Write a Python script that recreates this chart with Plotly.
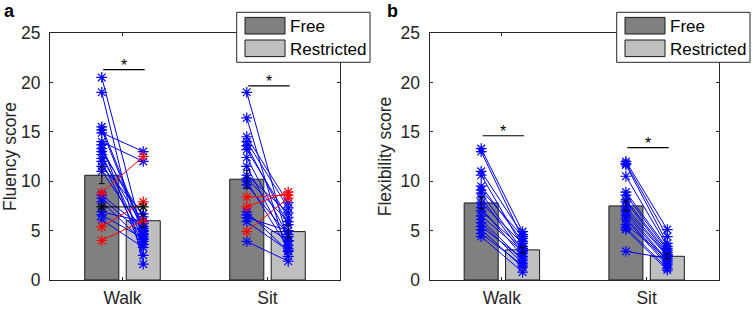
import plotly.graph_objects as go

# ---------------- data ----------------
conditions = ["Walk", "Sit"]
cond_pos = [1, 2]

# panel a: fluency
flu_free_mean = [10.6, 10.2]
flu_restr_mean = [6.0, 4.9]
flu_free_err = [0.85, 0.9]
flu_restr_err = [0.65, 0.65]

flu_walk_free = [20.5, 19.0, 15.5, 15.2, 14.9, 14.0, 13.7, 13.3, 13.0, 12.7, 12.3, 12.0,
                 11.5, 11.0, 8.6, 8.3, 7.9, 6.9, 6.6, 6.1, 8.85, 5.4, 4.0, 7.4]
flu_walk_restr = [4.4, 1.6, 5.0, 4.7, 13.0, 12.0, 2.5, 5.7, 6.4, 4.1, 5.4, 3.6,
                  6.7, 4.9, 5.2, 4.6, 3.9, 5.9, 4.2, 3.3, 12.5, 7.9, 6.0, 7.4]
flu_sit_free = [19.0, 16.4, 14.5, 14.0, 13.6, 13.2, 12.4, 11.5, 10.6, 10.3, 10.0, 9.6,
                6.9, 6.6, 6.3, 5.9, 3.9, 8.4, 7.4, 4.9]
flu_sit_restr = [3.9, 2.4, 7.8, 7.3, 5.6, 6.3, 4.4, 3.5, 6.8, 5.9, 3.2, 4.6,
                 2.9, 4.0, 5.0, 3.0, 1.9, 8.6, 8.9, 8.3]

# panel b: flexibility
flx_free_mean = [7.8, 7.5]
flx_restr_mean = [3.05, 2.4]
flx_free_err = [0.6, 0.5]
flx_restr_err = [0.3, 0.25]

flx_walk_free = [13.3, 13.0, 11.0, 10.6, 9.5, 9.1, 8.8, 8.3, 7.8, 7.3, 7.0, 6.5,
                 6.1, 5.8, 5.4, 5.1, 4.7, 4.4]
flx_walk_restr = [4.9, 4.2, 4.6, 3.4, 3.9, 4.4, 3.0, 2.7, 3.7, 2.4, 3.2, 2.9,
                  2.0, 1.7, 2.2, 1.3, 1.5, 0.8]
flx_sit_free = [12.0, 11.8, 11.65, 10.5, 8.9, 8.6, 8.1, 7.9, 7.4, 7.1, 6.9, 6.6,
                6.3, 6.1, 5.6, 5.3, 5.1, 2.9]
flx_sit_restr = [5.1, 4.4, 3.7, 3.4, 3.2, 3.0, 2.8, 2.6, 2.5, 2.4, 2.0, 1.9,
                 1.7, 1.5, 2.2, 1.2, 1.0, 2.2]

# significance bar heights
flu_sig = [21.3, 19.65]
flx_sig = [14.6, 13.4]

panel_titles = ["Fluency score", "Flexibility score"]
legend_labels = ["Free", "Restricted"]

# ---------------- style ----------------
W, H = 753, 309
FONT = "Liberation Sans, Arial, sans-serif"
INK = "#262626"
FREE_COL = "#808080"
RESTR_COL = "#bfbfbf"
OFF = 0.143
BW = 0.235


def px(x):
    return x / W


def py(y):
    return 1 - y / H


fig = go.Figure()


def add_panel(n, free_mean, restr_mean, free_err, restr_err, pairs, sig):
    xa = "x" if n == 1 else "x2"
    ya = "y" if n == 1 else "y2"
    xf = [c - OFF for c in cond_pos]
    xr = [c + OFF for c in cond_pos]
    fig.add_trace(go.Bar(x=xf, y=free_mean, width=BW, marker=dict(color=FREE_COL, line=dict(color="#1a1a1a", width=1)),
                         xaxis=xa, yaxis=ya, showlegend=False))
    fig.add_trace(go.Bar(x=xr, y=restr_mean, width=BW, marker=dict(color=RESTR_COL, line=dict(color="#1a1a1a", width=1)),
                         xaxis=xa, yaxis=ya, showlegend=False))
    groups = {"blue": ([], []), "red": ([], []), "black": ([], [])}
    for ci, (fr, rs) in enumerate(pairs):
        for a, b in zip(fr, rs):
            col = "blue" if b < a else ("red" if b > a else "black")
            gx, gy = groups[col]
            gx += [xf[ci], xr[ci], None]
            gy += [a, b, None]
    colmap = {"blue": "#0000ff", "red": "#ff0000", "black": "#000000"}
    for col in ["blue", "red", "black"]:
        gx, gy = groups[col]
        if not gx:
            continue
        c = colmap[col]
        fig.add_trace(go.Scatter(x=gx, y=gy, mode="lines+markers", xaxis=xa, yaxis=ya, showlegend=False,
                                 line=dict(color=c, width=1),
                                 marker=dict(symbol="asterisk-open", size=9, color=c, line=dict(color=c, width=1.2))))
    # error bars on top
    fig.add_trace(go.Scatter(x=xf + xr, y=free_mean + restr_mean, mode="markers", xaxis=xa, yaxis=ya, showlegend=False,
                             marker=dict(size=1, color="rgba(0,0,0,0)"),
                             error_y=dict(type="data", array=free_err + restr_err, color="#000000", thickness=1, width=3)))
    # significance bars
    for ci, s in enumerate(sig):
        fig.add_trace(go.Scatter(x=[xf[ci] + 0.01, xr[ci] + 0.01], y=[s, s], mode="lines", xaxis=xa, yaxis=ya,
                                 showlegend=False, line=dict(color="#000000", width=1.2)))
        fig.add_annotation(x=cond_pos[ci] + 0.01, y=s, xref=xa, yref=ya, text="*", showarrow=False,
                           yanchor="bottom", yshift=-6, font=dict(size=16, color="#000000", family=FONT))


add_panel(1, flu_free_mean, flu_restr_mean, flu_free_err, flu_restr_err,
          [(flu_walk_free, flu_walk_restr), (flu_sit_free, flu_sit_restr)], flu_sig)
add_panel(2, flx_free_mean, flx_restr_mean, flx_free_err, flx_restr_err,
          [(flx_walk_free, flx_walk_restr), (flx_sit_free, flx_sit_restr)], flx_sig)

ax_common = dict(showline=True, linecolor=INK, linewidth=1, mirror="ticks", ticks="inside", ticklen=3,
                 tickcolor=INK, showgrid=False, zeroline=False, automargin=False,
                 tickfont=dict(size=17.5, color=INK, family=FONT))
ydom = [py(280), py(33)]
fig.update_layout(
    template="none",
    width=W, height=H, margin=dict(l=0, r=0, t=0, b=0, pad=0), autosize=False,
    paper_bgcolor="white", plot_bgcolor="white", barmode="overlay", showlegend=False,
    font=dict(family=FONT, color=INK),
    xaxis=dict(domain=[px(50), px(340)], range=[0.5, 2.5], tickvals=cond_pos, ticktext=conditions,
               anchor="y", ticklabelstandoff=2, **ax_common),
    yaxis=dict(domain=ydom, range=[0, 25], tickvals=[0, 5, 10, 15, 20, 25], anchor="x", ticklabelstandoff=5,
               title=dict(text=panel_titles[0], font=dict(size=17.5, color=INK, family=FONT), standoff=4),
               **ax_common),
    xaxis2=dict(domain=[px(429.5), px(719)], range=[0.5, 2.5], tickvals=cond_pos, ticktext=conditions,
                anchor="y2", ticklabelstandoff=2, **ax_common),
    yaxis2=dict(domain=ydom, range=[0, 25], tickvals=[0, 5, 10, 15, 20, 25], anchor="x2", ticklabelstandoff=5,
                title=dict(text=panel_titles[1], font=dict(size=17.5, color=INK, family=FONT), standoff=4),
                **ax_common),
)

# panel letters
for letter, xx in [("a", 9), ("b", 392)]:
    fig.add_annotation(x=px(xx), y=py(11), xref="paper", yref="paper", text="<b>%s</b>" % letter,
                       showarrow=False, xanchor="center", yanchor="middle",
                       font=dict(size=18, color="#000000", family=FONT))

# legends (drawn above axes)
for dx in [0, 380]:
    fig.add_shape(type="rect", xref="paper", yref="paper", x0=px(236.7 + dx), x1=px(370 + dx),
                  y0=py(62.3), y1=py(12.3), fillcolor="white", line=dict(color=INK, width=1), layer="above")
    for i, (lab, col, yc) in enumerate(zip(legend_labels, [FREE_COL, RESTR_COL], [25.7, 48.3])):
        fig.add_shape(type="rect", xref="paper", yref="paper", x0=px(245 + dx), x1=px(285 + dx),
                      y0=py(yc + 8.3), y1=py(yc - 8.3), fillcolor=col, line=dict(color="#1a1a1a", width=1),
                      layer="above")
        fig.add_annotation(x=px(288 + dx), y=py(yc + 0.8), xref="paper", yref="paper", text=lab, showarrow=False,
                           xanchor="left", yanchor="middle", font=dict(size=17, color="#000000", family=FONT))

fig.write_html("out.html", config={"displayModeBar": False},
               post_script="document.body.style.margin='0';")
